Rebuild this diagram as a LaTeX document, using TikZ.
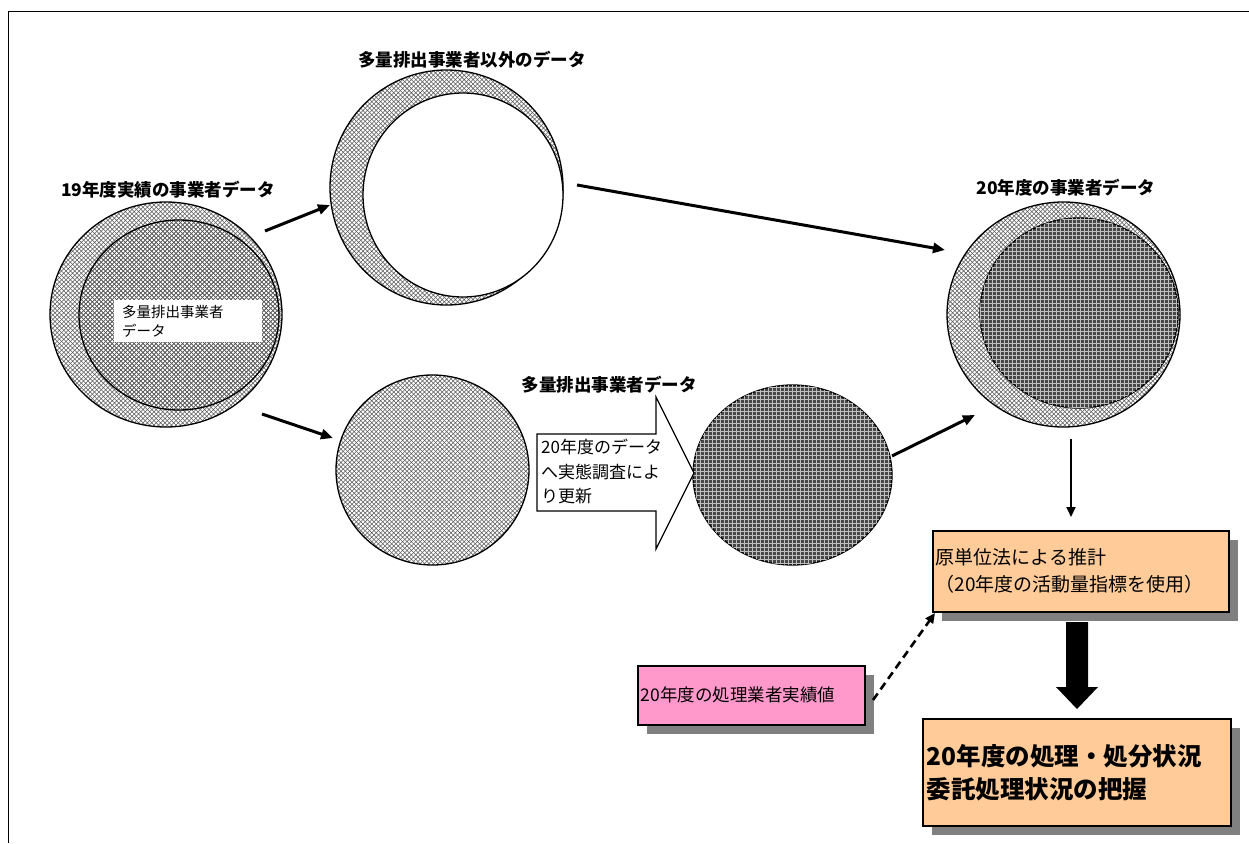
\documentclass[tikz,border=0pt]{standalone}
\usepackage{fontspec}
\setmainfont{Noto Sans CJK JP}
\usetikzlibrary{shapes.geometric, arrows.meta, patterns.meta, shadows}

\definecolor{orangebox}{HTML}{FFCC99}
\definecolor{pinkbox}{HTML}{FF99CC}
\definecolor{shadowgray}{HTML}{808080}

\tikzdeclarepattern{
  name=xhatch,
  type=colored,
  bottom left={(-0.5pt,-0.5pt)},
  top right={(4.9pt,4.9pt)},
  tile size={(4.4pt,4.4pt)},
  code={\draw[line width=0.55pt, black!65] (0pt,0pt) -- (4.4pt,4.4pt) (0pt,4.4pt) -- (4.4pt,0pt);}
}
\tikzdeclarepattern{
  name=wgrid,
  type=colored,
  bottom left={(-0.5pt,-0.5pt)},
  top right={(4.5pt,4.5pt)},
  tile size={(4pt,4pt)},
  code={\draw[line width=0.9pt, black!25] (0pt,0pt) -- (4pt,0pt) (0pt,0pt) -- (0pt,4pt);}
}

\begin{document}
\begin{tikzpicture}[x=1pt, y=-1pt,
  titletext/.style={font=\fontsize{17.5}{20}\selectfont\bfseries, inner sep=0pt},
  circ/.style={ellipse, draw, line width=1.3pt, inner sep=0pt},
  hatched/.style={pattern=xhatch},
  darkfill/.style={fill=black!72, postaction={pattern=wgrid}},
  arr/.style={line width=3pt, -{Triangle[length=12pt,width=10pt]}},
  thinarr/.style={line width=2pt, -{Triangle[length=10pt,width=9pt]}},
  dasharr/.style={line width=2.6pt, dash pattern=on 8pt off 5pt, -{Triangle[length=10pt,width=9pt]}},
  boxbase/.style={draw, line width=1.5pt, anchor=north west, align=left,
    drop shadow={shadow xshift=9pt, shadow yshift=-9pt, fill=shadowgray, opacity=1}},
  obox/.style={boxbase, fill=orangebox},
  pbox/.style={boxbase, fill=pinkbox}
]
\useasboundingbox (0,0) rectangle (1249,843);
\draw[line width=1pt] (1249,12) -- (8,12) -- (8,843);

% titles
\node[titletext] (t1) at (168,190) {19年度実績の事業者データ};
\node[titletext] (t2) at (472,60) {多量排出事業者以外のデータ};
\node[titletext] (t3) at (1066,188) {20年度の事業者データ};
\node[titletext] (t4) at (609,385) {多量排出事業者データ};

% circle 1
\node[circ, hatched, minimum width=232, minimum height=225] (c1o) at (166,314.5) {};
\node[circ, hatched, minimum width=200, minimum height=190] (c1i) at (179,315) {};
\node[fill=white, anchor=north west, inner xsep=8pt, inner ysep=2pt, text width=132pt,
  minimum height=42pt, align=left, font=\fontsize{14.5}{19}\selectfont] (lbl) at (114,300) {多量排出事業者\\データ};

% circle 2
\node[circ, hatched, minimum width=233, minimum height=235] (c2o) at (446.5,187.5) {};
\node[circ, fill=white, minimum width=200, minimum height=204] (c2i) at (463,195) {};

% circle 3
\node[circ, hatched, minimum width=193, minimum height=190] (c3) at (432.5,470) {};

% circle 4
\node[circ, darkfill, minimum width=199, minimum height=180] (c4) at (792.5,475) {};

% circle 5
\node[circ, hatched, minimum width=233, minimum height=225] (c5o) at (1063.5,314.5) {};
\node[circ, darkfill, minimum width=198, minimum height=190] (c5i) at (1079,313) {};

% block arrow (right)
\draw[line width=1.2pt, fill=white] (537,434) -- (656,434) -- (656,397) -- (694,473)
  -- (656,549) -- (656,511) -- (537,511) -- cycle;
\node[anchor=north west, align=left, inner sep=0pt, font=\fontsize{17}{24.5}\selectfont] (bt) at (541,439) {20年度のデータ\\へ実態調査によ\\り更新};

% arrows
\coordinate (a1s) at (265,231); \coordinate (a1e) at (330,205);
\coordinate (a2s) at (262,414); \coordinate (a2e) at (333,438);
\coordinate (a3s) at (577,185); \coordinate (a3e) at (945,250);
\coordinate (a4s) at (892,456); \coordinate (a4e) at (975,415);
\coordinate (a5s) at (1071,439); \coordinate (a5e) at (1071,517);
\draw[arr] (a1s) -- (a1e);
\draw[arr] (a2s) -- (a2e);
\draw[arr] (a3s) -- (a3e);
\draw[arr] (a4s) -- (a4e);
\draw[thinarr] (a5s) -- (a5e);

% boxes
\node[obox, text width=290pt, inner xsep=3pt, minimum height=81pt, font=\fontsize{19}{27}\selectfont] (b1) at (932,530) {原単位法による推計\\（20年度の活動量指標を使用）};
\node[pbox, text width=221pt, inner xsep=3pt, minimum height=59pt, font=\fontsize{17.5}{22}\selectfont] (b3) at (637,665) {20年度の処理業者実績値};
\node[obox, text width=300pt, inner xsep=4pt, minimum height=107pt, font=\fontsize{24.5}{33}\selectfont\bfseries] (b2) at (922,718) {20年度の処理・処分状況\\委託処理状況の把握};

% big down arrow
\fill (1066,622) -- (1088,622) -- (1088,687) -- (1098,687) -- (1077,709) -- (1056,687) -- (1066,687) -- cycle;

% dashed arrow
\coordinate (d1s) at (873,700); \coordinate (d1e) at (935,613);
\draw[dasharr] (d1s) -- (d1e);
\end{tikzpicture}
\end{document}
